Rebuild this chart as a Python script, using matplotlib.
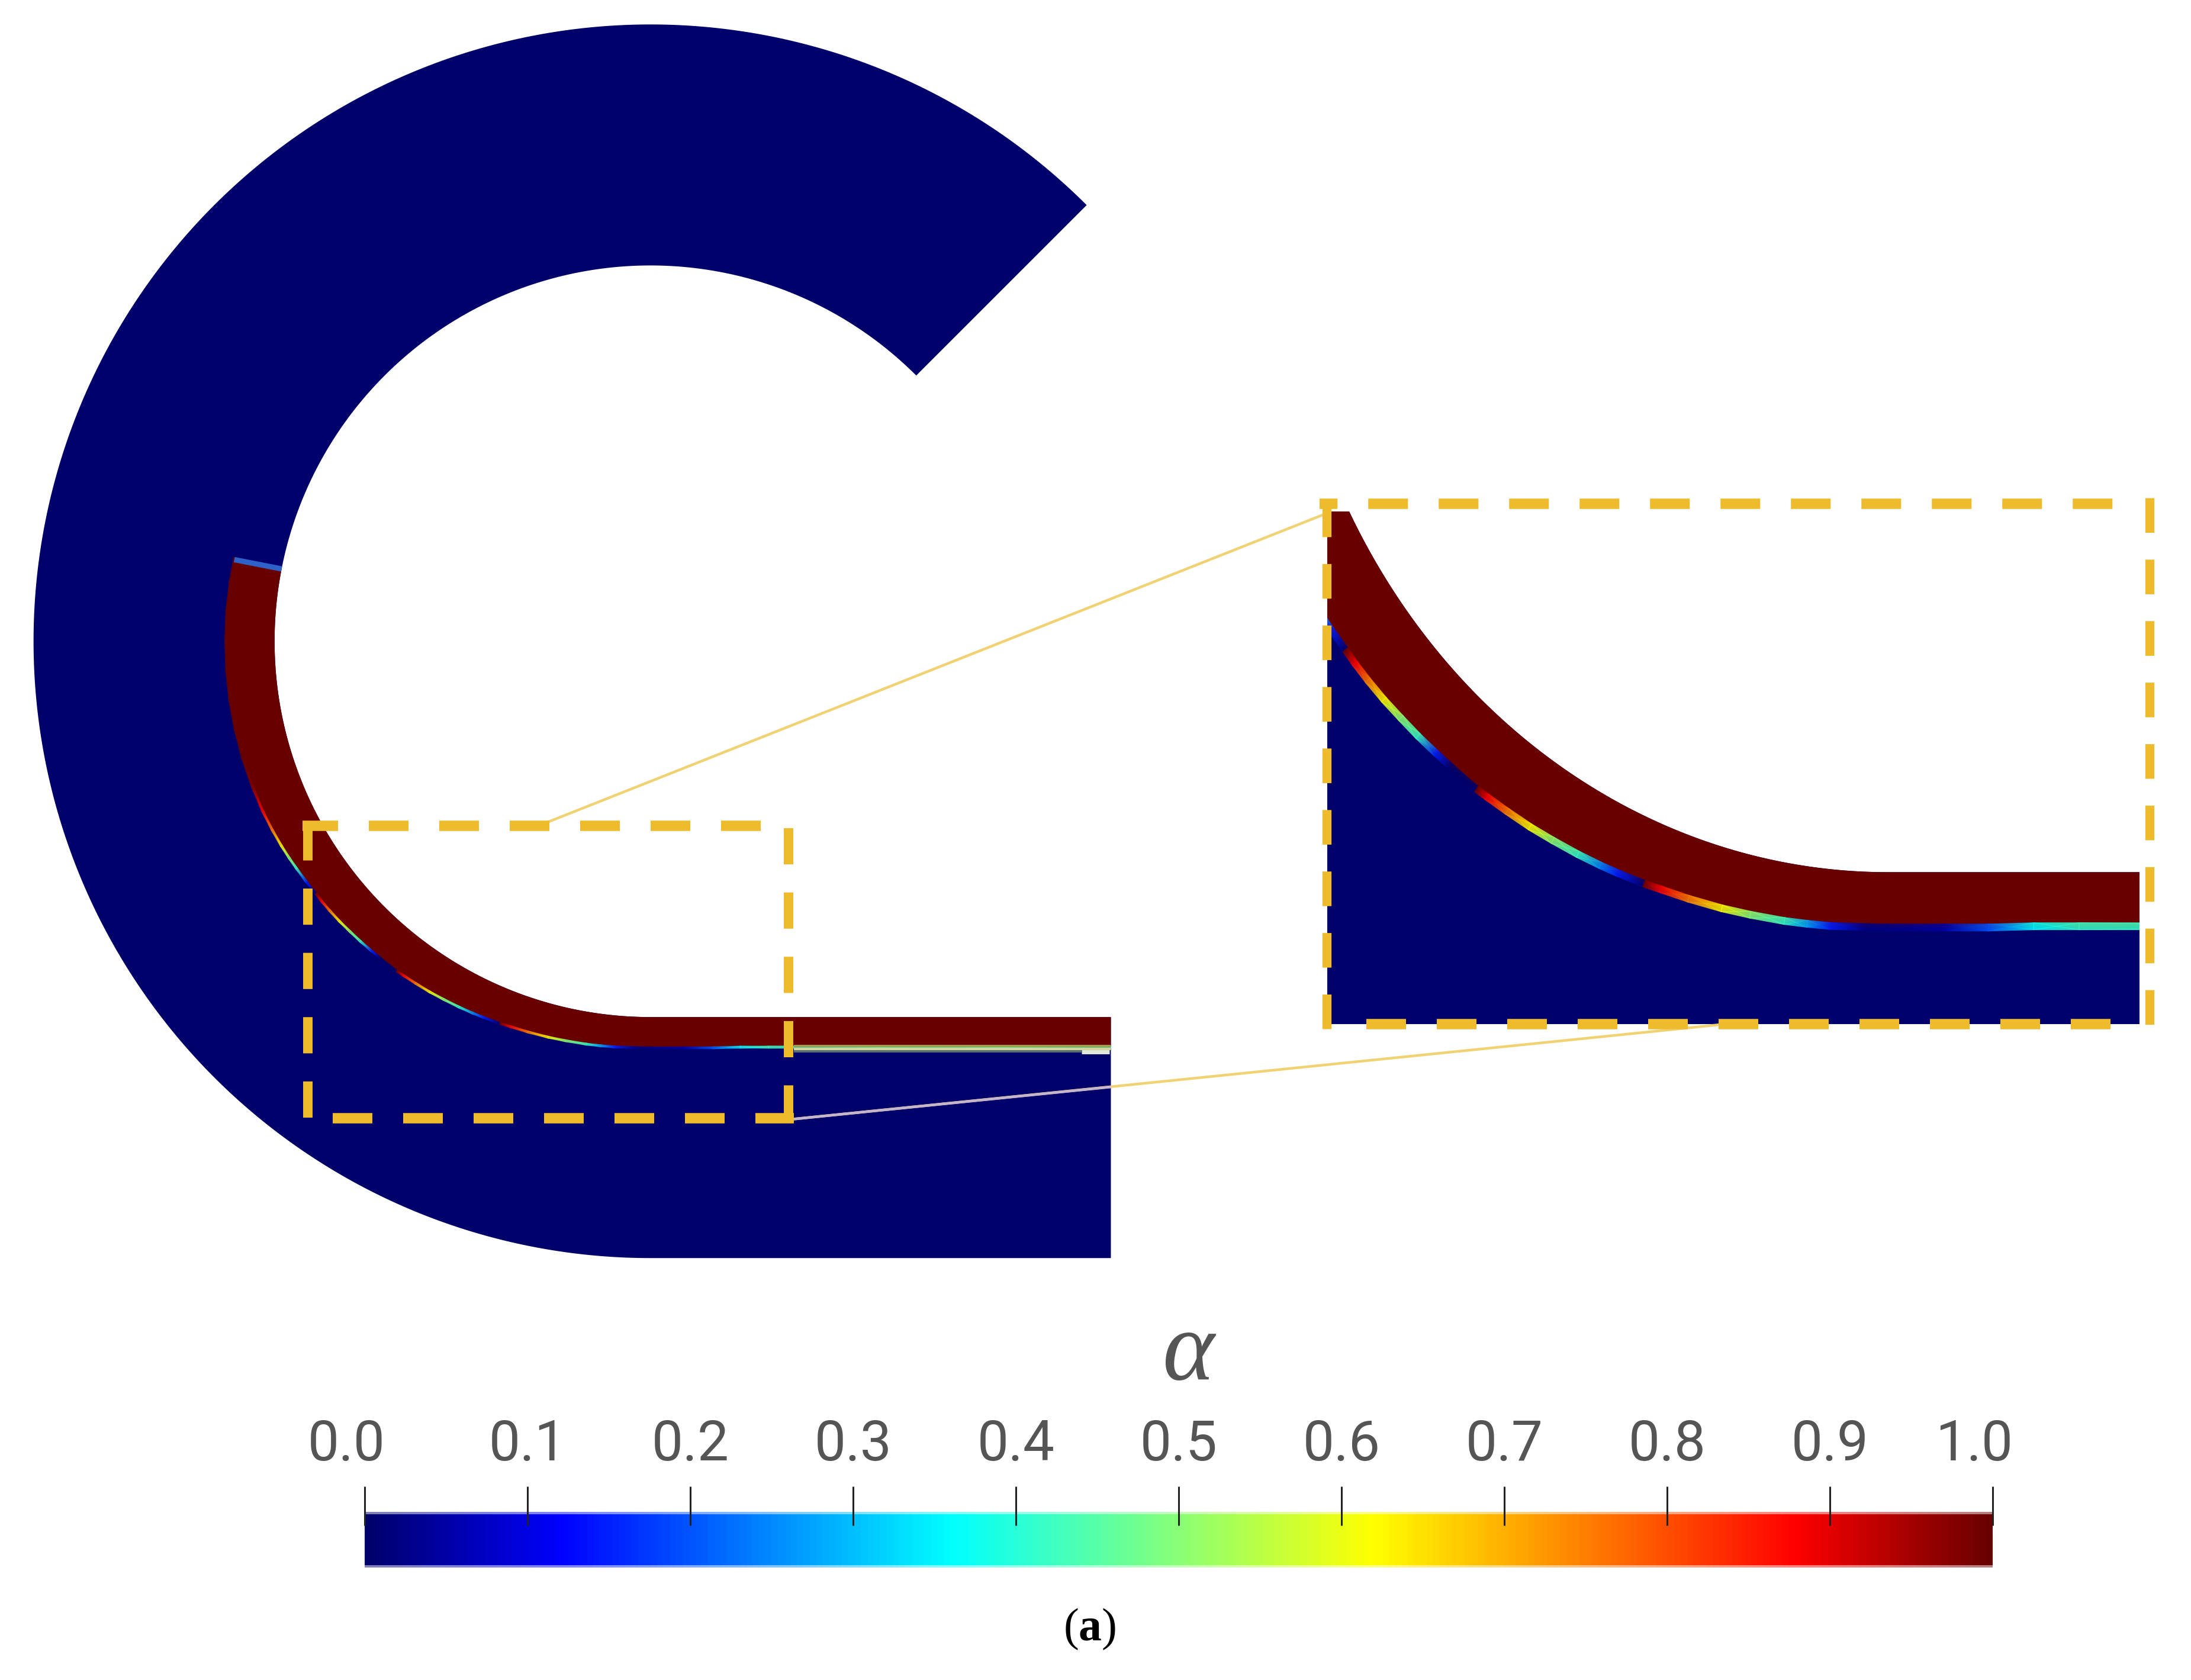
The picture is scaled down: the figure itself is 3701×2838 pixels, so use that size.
import numpy as np
import matplotlib
matplotlib.use("Agg")
import matplotlib.pyplot as plt
from matplotlib.colors import LinearSegmentedColormap
from matplotlib.cm import ScalarMappable
from matplotlib.colors import Normalize

# colour bar
tick_values = [0.0, 0.1, 0.2, 0.3, 0.4, 0.5, 0.6, 0.7, 0.8, 0.9, 1.0]
tick_labels = ["0.0", "0.1", "0.2", "0.3", "0.4", "0.5", "0.6", "0.7", "0.8", "0.9", "1.0"]
bar_title = "α"
panel_label = r"($\mathbf{a}$)"

# interface along the curved part: angle (deg), radius and alpha value
arc_theta = [168.6, 172, 176, 180, 184, 188, 192, 196, 200, 203.7, 206.5, 209, 211, 212.7, 215,
             217, 217, 218.3, 220, 222, 224, 226, 228, 229.6, 231, 232.4,
             232.4, 233.5, 235.5, 237.8, 240, 242.4, 244.5, 246.1, 248.5,
             248.5, 250, 252.5, 255.5, 258, 261, 263, 265, 268, 270]
arc_radius = [303.5, 303.8, 304, 304, 304, 304, 303.9, 303.7, 303.3, 303, 302.5, 302, 301.5, 301, 300.5,
              300, 300, 300, 299.8, 299.5, 299, 298.7, 298.3, 298, 297.9, 297.8,
              297.8, 297.5, 297, 296.6, 296, 295.5, 295, 294.6, 294,
              294, 293.5, 293.1, 292.7, 292.3, 292, 291.7, 291.5, 291, 291]
arc_alpha = [1, 1, 1, 1, 1, 1, 1, 1, 0.98, 0.88, 0.75, 0.62, 0.5, 0.42, 0.15,
             0, 1, 0.88, 0.75, 0.62, 0.5, 0.42, 0.15, 0, 0, 0,
             1, 0.88, 0.75, 0.62, 0.5, 0.42, 0.25, 0.15, 0,
             1, 0.88, 0.75, 0.62, 0.5, 0.42, 0.28, 0.15, 0.02, 0.02]

# interface along the straight part
flat_x = [465, 490, 510, 530, 550, 795]
flat_y = [750, 750, 750, 749.5, 749.5, 749.5]
flat_alpha = [0.02, 0.05, 0.2, 0.36, 0.42, 0.44]

# picture is laid out in a 1568 wide frame
W, H = 1568.0, 1202.5
cx, cy = 465.5, 459.0
r_in, r_out = 269.0, 441.5
x_end = 795.0
theta_open = 45.0
theta_film = 168.6

jet_pv = LinearSegmentedColormap.from_list(
    "jet_pv",
    [(0.0, "#00006a"), (0.12, "#0000ff"), (0.36, "#00ffff"), (0.62, "#ffff00"),
     (0.88, "#ff0000"), (1.0, "#680000")],
)
navy = jet_pv(0.0)
dark_red = jet_pv(1.0)
box_col = "#eebb2c"
link_col = "#f0d272"


def polar(theta, r):
    t = np.radians(theta)
    return cx + r * np.cos(t), cy - r * np.sin(t)


def draw_film(ax, half_w, band_alpha):
    # whole domain first
    t = np.linspace(theta_open, 270, 400)
    xo, yo = polar(t, r_out)
    xi, yi = polar(t[::-1], r_in)
    ax.fill(np.r_[xo, x_end, x_end, xi], np.r_[yo, cy + r_out, cy + r_in, yi], color=navy, lw=0)

    # liquid film, bounded below by the interface stations
    ax_, ay_ = polar(np.array(arc_theta), np.array(arc_radius))
    ix = np.r_[ax_, flat_x]
    iy = np.r_[ay_, flat_y]
    t2 = np.linspace(theta_film, 270, 300)
    xi2, yi2 = polar(t2, r_in)
    ax.fill(np.r_[xi2, x_end, ix[::-1]], np.r_[yi2, cy + r_in, iy[::-1]], color=dark_red, lw=0)

    # thin coloured band on the interface
    nx = (ix - cx) / np.hypot(ix - cx, iy - cy)
    ny = (iy - cy) / np.hypot(ix - cx, iy - cy)
    is_flat = ix > cx
    nx[is_flat] = 0.0
    ny[is_flat] = 1.0
    X = np.vstack([ix - half_w * nx, ix + half_w * nx])
    Y = np.vstack([iy - half_w * ny, iy + half_w * ny])
    vals = np.r_[arc_alpha, flat_alpha]
    C = np.vstack([vals, vals])
    ax.pcolormesh(X, Y, C, shading="gouraud", cmap=jet_pv, vmin=0, vmax=1, alpha=band_alpha)


fig = plt.figure(figsize=(37.01, 28.38), dpi=100, facecolor="white")

ax = fig.add_axes([0, 0, 1, 1], zorder=2)
ax.set_xlim(0, W)
ax.set_ylim(H, 0)
ax.axis("off")

draw_film(ax, 0.75, 0.8)

# blue cap at the top end of the film
cap_x, cap_y = polar(np.array([168.9, 168.9]), np.array([r_in, 303.5]))
ax.plot(cap_x, cap_y, color="#2f62c8", lw=6.5, solid_capstyle="butt")

# the interface looks washed out near the outlet
ax.plot([568, 795], [748.8, 748.8], color="#a89a48", lw=2.9, solid_capstyle="butt")
ax.plot([568, 795], [750.7, 750.7], color="#d0d8a0", lw=2.9, solid_capstyle="butt")
ax.plot([568, 774], [752.5, 752.5], color="#5a7070", lw=2.9, solid_capstyle="butt")
ax.plot([774, 794], [753, 753], color="#e4e8d8", lw=5, solid_capstyle="butt")

# zoomed view
ins = fig.add_axes([950 / W, 1 - 733 / H, 581 / W, 367 / H], zorder=1)
ins.set_xlim(218, 576.6)
ins.set_ylim(788.4, 584.5)
ins.axis("off")
draw_film(ins, 1.4, 0.85)

# connector lines
ax.plot([388, 948], [590, 368], color=link_col, lw=3.2, solid_capstyle="butt")
ax.plot([568, 1235], [801, 733], color=link_col, lw=3.2, solid_capstyle="butt")
ax.plot([568, 795], [801, 778], color="#c4b4cc", lw=3.2, solid_capstyle="butt")

# dashed boxes, each side on its own to keep the dash phase
dash_on, dash_off = 3.83, 2.97
def dash_side(xs, ys, off=0.0, lw=12.6):
    ax.plot(xs, ys, color=box_col, lw=lw, dash_capstyle="butt",
            linestyle=(off, (dash_on, dash_off)))

dash_side([216.6, 564.4], [591, 591], off=0.4)
dash_side([564.4, 564.4], [592.8, 804], lw=11.5)
dash_side([238.3, 568], [800.4, 800.4])
dash_side([220.3, 220.3], [800, 588], lw=11.5)

dash_side([944.5, 1512], [360.4, 360.4], off=2.1)
dash_side([1538.4, 1538.4], [356.5, 736.4], lw=11)
dash_side([978, 1512], [733, 733])
dash_side([949.3, 949.3], [736.4, 356], lw=11)

# colour bar
bar_ax = fig.add_axes([261 / W, 1 - 1122 / H, 1165 / W, 40 / H], zorder=3)
cb = fig.colorbar(ScalarMappable(Normalize(0, 1), jet_pv), cax=bar_ax, orientation="horizontal")
cb.outline.set_visible(False)
bar_ax.set_xticks(tick_values, [""] * len(tick_values))
bar_ax.tick_params(axis="x", length=0)
bar_ax.axhspan(0.955, 1.0, color="white", alpha=0.5, lw=0)
bar_ax.axhspan(0.0, 0.045, color="white", alpha=0.5, lw=0)
bar_ax.vlines(tick_values, 0.75, 1.45, color="#222222", lw=2.2,
              transform=bar_ax.get_xaxis_transform(), clip_on=False)
for v, lab in zip(tick_values, tick_labels):
    dx = -31 if lab in ("0.0", "1.0") else 0
    bar_ax.annotate(lab, xy=(v, 1), xycoords=bar_ax.get_xaxis_transform(),
                    xytext=(dx, 113), textcoords="offset pixels",
                    ha="center", va="center", fontsize=68, color="#555555",
                    family="Roboto")

ax.text(850, 970, bar_title, ha="center", va="center", fontsize=120, color="#555555",
        family="Liberation Serif", style="italic")

plt.rcParams["mathtext.fontset"] = "custom"
plt.rcParams["mathtext.bf"] = "Liberation Serif:bold"
plt.rcParams["mathtext.rm"] = "Liberation Serif"
ax.text(780, 1166, panel_label, ha="center", va="center", fontsize=56, color="black",
        family="Liberation Serif")

fig.savefig("out.png", dpi=100, facecolor="white")
